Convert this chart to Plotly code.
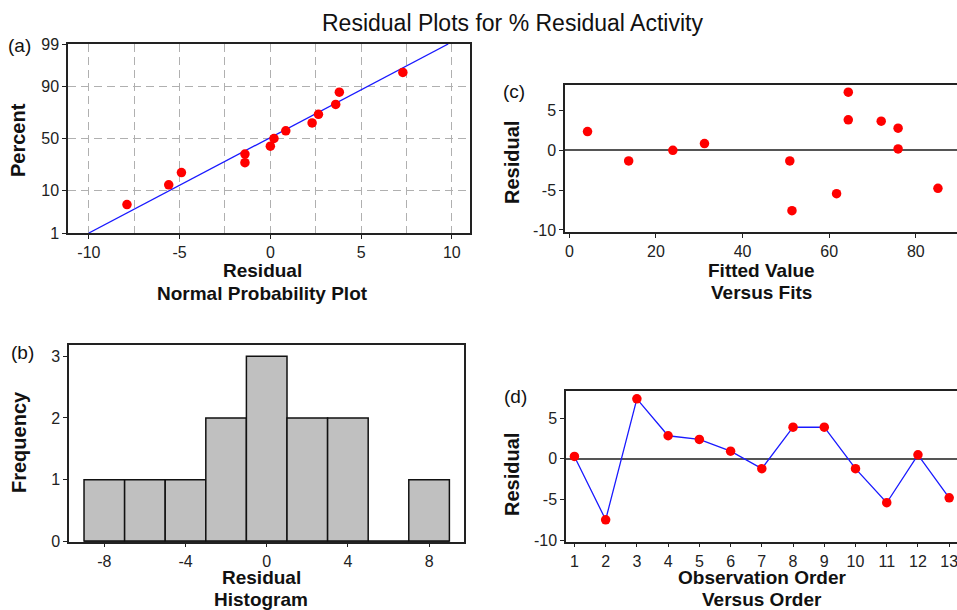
import plotly.graph_objects as go
from statistics import NormalDist

# ---------------- data ----------------
# (a) Normal probability plot: sorted residuals and plotted percents
npp_residual = [-7.9, -5.6, -4.9, -1.4, -1.4, 0.0, 0.2, 0.85, 2.3, 2.65, 3.6, 3.8, 7.3]
npp_percent = [5.2, 12.7, 20.1, 27.6, 35.1, 42.5, 50.0, 57.5, 64.9, 72.4, 79.9, 87.3, 94.8]
fit_x = [-10.0, 9.8]
fit_percent = [1, 99]
pct_ticks = [1, 10, 50, 90, 99]
npp_xticks = [-10, -5, 0, 5, 10]

# (b) Histogram of residuals
bin_centers = [-8, -6, -4, -2, 0, 2, 4, 6, 8]
bin_counts = [1, 1, 1, 2, 3, 2, 2, 0, 1]
bin_edges = [-9, 9]
hist_xticks = [-8, -4, 0, 4, 8]
hist_yticks = [0, 1, 2, 3]

# (c) Residual versus fitted value
fitted_value = [4.2, 13.7, 23.9, 31.2, 50.9, 51.4, 61.7, 64.4, 64.4, 72.0, 75.9, 75.9, 85.1]
fits_residual = [2.35, -1.34, 0.0, 0.84, -1.34, -7.59, -5.45, 7.3, 3.82, 3.65, 2.77, 0.17, -4.78]
fits_xticks = [0, 20, 40, 60, 80]
resid_yticks = [-10, -5, 0, 5]

# (d) Residual versus observation order
observation = list(range(1, 14))
order_residual = [0.3, -7.5, 7.4, 2.85, 2.4, 0.95, -1.2, 3.9, 3.9, -1.2, -5.4, 0.5, -4.8]

# ---------------- helpers ----------------
W, H = 957, 610
nd = NormalDist()
def z(p):
    return nd.inv_cdf(p / 100.0)
def fx(px):
    return px / W
def fy(py):
    return 1 - py / H
def lab(v):
    return str(v)  # plain hyphen-minus like the reference

FONT = "Arial, Liberation Sans, sans-serif"
RED = "#ff0000"
BLUE = "#1a1aff"
AX = "#222222"
GRID = "#b0b0b0"

fig = go.Figure()

# (a)
fig.add_trace(go.Scatter(x=fit_x, y=[z(p) for p in fit_percent], mode="lines",
                         line=dict(color=BLUE, width=1.3), xaxis="x", yaxis="y",
                         showlegend=False, hoverinfo="skip"))
fig.add_trace(go.Scatter(x=npp_residual, y=[z(p) for p in npp_percent], mode="markers",
                         marker=dict(color=RED, size=9.5), xaxis="x", yaxis="y",
                         showlegend=False))
# (b)
fig.add_trace(go.Bar(x=bin_centers, y=bin_counts, width=2,
                     marker=dict(color="#c0c0c0", line=dict(color="#111111", width=1.5)),
                     xaxis="x2", yaxis="y2", showlegend=False))
fig.add_trace(go.Scatter(x=bin_edges, y=[0, 0], mode="lines",
                         line=dict(color="#111111", width=3), xaxis="x2", yaxis="y2",
                         showlegend=False, hoverinfo="skip"))
# (c)
fig.add_trace(go.Scatter(x=fitted_value, y=fits_residual, mode="markers",
                         marker=dict(color=RED, size=9.5), xaxis="x3", yaxis="y3",
                         showlegend=False))
# (d)
fig.add_trace(go.Scatter(x=observation, y=order_residual, mode="lines+markers",
                         line=dict(color=BLUE, width=1.3),
                         marker=dict(color=RED, size=9.5), xaxis="x4", yaxis="y4",
                         showlegend=False))

tickfont = dict(family=FONT, size=16, color="#222222")
axbase = dict(showline=True, linecolor=AX, linewidth=1.5, ticks="outside", ticklen=4,
              tickcolor=AX, tickwidth=1, tickfont=tickfont, showgrid=False, zeroline=False,
              ticklabeloverflow="allow", automargin=False)

layout = dict(
    width=W, height=H, margin=dict(l=0, r=0, t=0, b=0, pad=0), autosize=False,
    paper_bgcolor="white", plot_bgcolor="white",
    font=dict(family=FONT, color="#111111"),
    # (a)
    xaxis=dict(axbase, domain=[fx(68), fx(470)], range=[-11.15, 11.0], mirror=True,
               tickvals=npp_xticks, ticktext=[lab(v) for v in npp_xticks], anchor="y",
               showgrid=True, gridcolor=GRID, gridwidth=1.3, griddash="8px,5px",
               minor=dict(tickvals=[-7.5, -2.5, 2.5, 7.5], showgrid=True, gridcolor=GRID,
                          gridwidth=1.3, griddash="8px,5px", ticks="")),
    yaxis=dict(axbase, domain=[fy(233), fy(44)], range=[z(1), z(99)], mirror=True,
               tickvals=[z(p) for p in pct_ticks], ticktext=[str(p) for p in pct_ticks],
               anchor="x", showgrid=True, gridcolor=GRID, gridwidth=1.3, griddash="8px,5px"),
    # (b)
    xaxis2=dict(axbase, domain=[fx(69), fx(464)], range=[-9.74, 9.72], mirror=True,
                tickvals=hist_xticks, ticktext=[lab(v) for v in hist_xticks], anchor="y2"),
    yaxis2=dict(axbase, domain=[fy(541.7), fy(345)], range=[0, 3.18], mirror=True,
                tickvals=hist_yticks, ticktext=[lab(v) for v in hist_yticks], anchor="x2"),
    # (c)
    xaxis3=dict(axbase, domain=[fx(565), 1.0], range=[-1.0, 89.5], mirror=True,
                tickvals=fits_xticks, ticktext=[lab(v) for v in fits_xticks], anchor="y3"),
    yaxis3=dict(axbase, domain=[fy(232.3), fy(85)], range=[-10.3, 8.2], mirror=False,
                tickvals=resid_yticks, ticktext=[lab(v) for v in resid_yticks], anchor="x3",
                zeroline=True, zerolinecolor="#555555", zerolinewidth=1.5),
    # (d)
    xaxis4=dict(axbase, domain=[fx(566), 1.0], range=[0.73, 13.25], mirror=True,
                tickvals=observation, ticktext=[lab(v) for v in observation], anchor="y4"),
    yaxis4=dict(axbase, domain=[fy(541.7), fy(390.7)], range=[-10.2, 8.4], mirror=False,
                tickvals=resid_yticks, ticktext=[lab(v) for v in resid_yticks], anchor="x4",
                zeroline=True, zerolinecolor="#555555", zerolinewidth=1.5),
)

def ann(text, px, py, size=19, bold=True, angle=0, xanchor="center", yanchor="middle"):
    t = f"<b>{text}</b>" if bold else text
    return dict(text=t, x=fx(px), y=fy(py), xref="paper", yref="paper", showarrow=False,
                font=dict(family=FONT, size=size, color="#111111"), textangle=angle,
                xanchor=xanchor, yanchor=yanchor, borderpad=0)

annotations = [
    ann("Residual Plots for % Residual Activity", 512, 23, size=23, bold=False),
    ann("(a)", 19, 46, size=19, bold=False),
    ann("(b)", 22, 352, size=19, bold=False),
    ann("(c)", 514, 91, size=19, bold=False),
    ann("(d)", 515, 396, size=19, bold=False),
    # axis titles
    ann("Percent", 18, 140, size=20, angle=-90),
    ann("Residual", 262, 270),
    ann("Normal Probability Plot", 262, 293),
    ann("Frequency", 19, 442, size=20, angle=-90),
    ann("Residual", 261, 577),
    ann("Histogram", 261, 599),
    ann("Residual", 512, 163, size=20, angle=-90),
    ann("Fitted Value", 761, 270),
    ann("Versus Fits", 761, 292),
    ann("Residual", 512, 475, size=20, angle=-90),
    ann("Observation Order", 762, 577),
    ann("Versus Order", 762, 599),
]
layout["annotations"] = annotations
fig.update_layout(**layout)

post = """
document.documentElement.style.margin='0';
document.documentElement.style.padding='0';
document.documentElement.style.overflow='hidden';
document.body.style.margin='0';
document.body.style.padding='0';
document.body.style.overflow='hidden';
var gd=document.getElementsByClassName('plotly-graph-div')[0];
gd.style.position='fixed'; gd.style.top='0px'; gd.style.left='0px';
"""
fig.write_html("out.html", config={"displayModeBar": False}, post_script=post)
